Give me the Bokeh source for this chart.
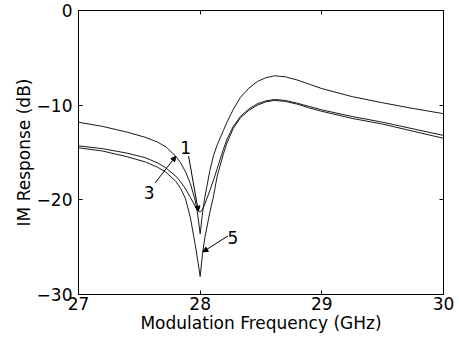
from bokeh.plotting import figure
from bokeh.models import Range1d, LinearAxis, FixedTicker, Arrow, NormalHead, Label, CustomJSTickFormatter
from bokeh.embed import file_html
from bokeh.resources import INLINE

# ---- data ----
freq = [27.0, 27.2, 27.4, 27.55, 27.65, 27.72, 27.8, 27.84, 27.88, 27.92, 27.96, 27.98,
        28.0, 28.02, 28.04, 28.08, 28.11, 28.14, 28.19, 28.22, 28.27, 28.33, 28.4, 28.47,
        28.54, 28.61, 28.7, 28.8, 28.9, 29.0, 29.25, 29.5, 29.75, 30.0]
curve3 = [-11.8, -12.25, -12.85, -13.4, -13.9, -14.42, -15.4, -16.1, -17.05, -18.3, -20.1, -21.6,
          -23.6, -21.3, -19.6, -16.9, -15.3, -14.2, -12.7, -11.8, -10.5, -9.2, -8.2, -7.5,
          -7.1, -6.9, -7.0, -7.35, -7.8, -8.25, -9.1, -9.75, -10.35, -10.9]
curve1 = [-14.3, -14.6, -15.07, -15.55, -16.1, -16.65, -17.5, -18.1, -18.85, -19.75, -20.7, -21.1,
          -21.3, -21.0, -20.4, -19.0, -17.9, -16.7, -14.7, -13.6, -12.3, -11.2, -10.4, -9.85,
          -9.55, -9.4, -9.5, -9.8, -10.15, -10.5, -11.2, -11.8, -12.5, -13.2]
curve5 = [-14.5, -14.85, -15.45, -16.0, -16.55, -17.1, -18.05, -18.8, -19.9, -21.9, -24.8, -26.4,
          -28.1, -25.6, -23.9, -21.3, -19.6, -17.5, -15.2, -14.0, -12.5, -11.35, -10.55, -10.0,
          -9.65, -9.5, -9.6, -9.9, -10.3, -10.65, -11.4, -12.0, -12.75, -13.5]

x_ticks = [27, 28, 29, 30]
y_ticks = [-30, -20, -10, 0]

# annotation labels: text, label position, arrow start, arrow end (data units)
ann_text = ["1", "3", "5"]
ann_x = [27.88, 27.58, 28.27]
ann_y = [-14.5, -19.2, -24.0]
arr_x0 = [27.905, 27.63, 28.23]
arr_y0 = [-15.4, -18.2, -23.8]
arr_x1 = [27.985, 27.80, 28.022]
arr_y1 = [-21.2, -15.4, -25.5]

FONT = "DejaVu Sans"
FS = "17px"

p = figure(width=459, height=345, output_backend="svg", toolbar_location=None,
           x_range=Range1d(27, 30), y_range=Range1d(-30, 0),
           min_border_left=78, min_border_right=16, min_border_top=10, min_border_bottom=51,
           background_fill_color="white", border_fill_color="white")

p.xgrid.visible = False
p.ygrid.visible = False
p.outline_line_color = "black"
p.outline_line_width = 1

for ax, ticks in ((p.xaxis[0], x_ticks), (p.yaxis[0], y_ticks)):
    ax.ticker = FixedTicker(ticks=ticks)
    ax.major_tick_in = 4
    ax.major_tick_out = 0
    ax.minor_tick_line_color = None
    ax.axis_line_color = "black"
    ax.major_tick_line_color = "black"
    ax.major_label_text_font = FONT
    ax.major_label_text_font_size = FS
    ax.major_label_text_color = "black"
    ax.axis_label_text_font = FONT
    ax.axis_label_text_font_size = FS
    ax.axis_label_text_font_style = "normal"
    ax.axis_label_text_color = "black"

p.xaxis.axis_label = "Modulation Frequency (GHz)"
p.yaxis.axis_label = "IM Response (dB)"
p.xaxis.major_label_standoff = 2
p.xaxis.axis_label_standoff = 0
p.yaxis.major_label_standoff = 6
p.yaxis.axis_label_standoff = 0

blank = CustomJSTickFormatter(code="return ''")
top = LinearAxis(ticker=FixedTicker(ticks=x_ticks), formatter=blank, major_tick_in=4,
                 major_tick_out=0, minor_tick_line_color=None, major_label_standoff=0)
right = LinearAxis(ticker=FixedTicker(ticks=y_ticks), formatter=blank, major_tick_in=4,
                   major_tick_out=0, minor_tick_line_color=None, major_label_standoff=0)
p.add_layout(top, "above")
p.add_layout(right, "right")

for ys in (curve3, curve1, curve5):
    p.line(freq, ys, line_color="#1a1a1a", line_width=1)

for t, lx, ly, x0, y0, x1, y1 in zip(ann_text, ann_x, ann_y, arr_x0, arr_y0, arr_x1, arr_y1):
    p.add_layout(Label(x=lx, y=ly, text=t, text_align="center", text_baseline="middle",
                       text_font=FONT, text_font_size=FS, text_color="black"))
    p.add_layout(Arrow(x_start=x0, y_start=y0, x_end=x1, y_end=y1, line_width=1,
                       line_color="black",
                       end=NormalHead(size=5, fill_color="black", line_color="black")))

open("out.html", "w").write(file_html(p, INLINE))
